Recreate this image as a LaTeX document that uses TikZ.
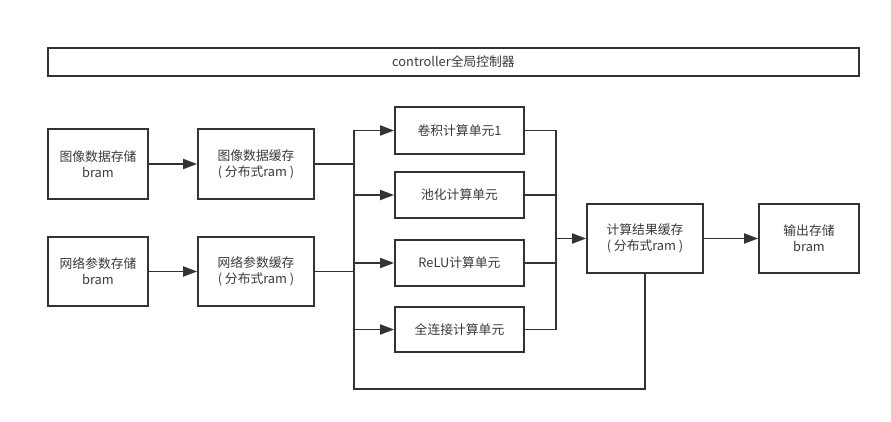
\documentclass[tikz,border=0pt]{standalone}
\usepackage{fontspec}
\setmainfont{Noto Sans CJK SC}
\usetikzlibrary{arrows.meta}
\definecolor{ln}{HTML}{333333}
\definecolor{tx}{HTML}{3A3A3A}
\begin{document}
\begin{tikzpicture}[x=1pt,y=-1pt,
  box/.style={draw=ln,line width=1.8pt,fill=white,inner sep=0pt,align=center,
    text=tx,font=\fontsize{12.8}{16}\selectfont},
  wire/.style={draw=ln,line width=1.8pt},
  arr/.style={wire,-{Triangle[length=14pt,width=10pt]}}]
\useasboundingbox (0,0) rectangle (891,422);
\fill[white] (0,0) rectangle (891,422);
\node[box,minimum width=811pt,minimum height=28pt] (ctrl) at (453.5,62) {controller全局控制器};
\node[box,minimum width=100pt,minimum height=70pt] (is) at (98,164) {图像数据存储\\bram};
\node[box,minimum width=116pt,minimum height=70pt] (ib) at (256,164) {图像数据缓存\\( 分布式ram )};
\node[box,minimum width=100pt,minimum height=69pt] (ns) at (98,271.5) {网络参数存储\\bram};
\node[box,minimum width=116pt,minimum height=69pt] (nb) at (256,271.5) {网络参数缓存\\( 分布式ram )};
\node[box,minimum width=129pt,minimum height=47pt] (u1) at (459.5,130.5) {卷积计算单元1};
\node[box,minimum width=129pt,minimum height=46pt] (u2) at (459.5,195) {池化计算单元};
\node[box,minimum width=129pt,minimum height=46pt] (u3) at (459.5,263) {ReLU计算单元};
\node[box,minimum width=129pt,minimum height=45pt] (u4) at (459.5,329.5) {全连接计算单元};
\node[box,minimum width=116pt,minimum height=69pt] (res) at (645,238.5) {计算结果缓存\\( 分布式ram )};
\node[box,minimum width=100pt,minimum height=69pt] (out) at (809,238.5) {输出存储\\bram};
\coordinate (bl) at (354,0);
\coordinate (br) at (556,0);
\coordinate (bot) at (354,389);
\draw[arr] (is) -- (ib);
\draw[arr] (ns) -- (nb);
\draw[wire] (ib.east) -- (bl |- ib.east);
\draw[wire] (nb.east) -- (bl |- nb.east);
\draw[wire] (bl |- u1.west) -- (bot) -- (res.south |- bot) -- (res.south);
\foreach \u in {u1,u2,u3,u4}{
  \draw[arr] (bl |- \u.west) -- (\u.west);
  \draw[wire] (\u.east) -- (br |- \u.east);
}
\draw[wire] (br |- u1.east) -- (br |- u4.east);
\draw[arr] (br |- res.west) -- (res.west);
\draw[arr] (res) -- (out);
\end{tikzpicture}
\end{document}
